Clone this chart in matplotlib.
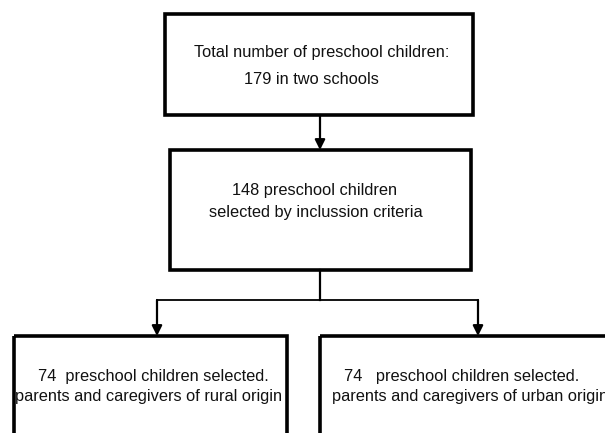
import matplotlib.pyplot as plt
from matplotlib import patches

# boxes: (left, top, right, bottom) in pixel coordinates of the 605x433 canvas
box_left = [165, 170, 14, 320]
box_top = [14, 150, 336, 336]
box_right = [473, 471, 287, 640]
box_bottom = [115, 270, 460, 460]

# text lines: (x centre, y, string)
text_x = [322, 311, 315, 316, 153, 149, 462, 470]
text_y = [52, 80, 191, 212, 377, 397, 377, 397]
text_s = ['Total number of preschool children:',
          '179 in two schools',
          '148 preschool children',
          'selected by inclussion criteria',
          '74  preschool children selected.',
          'parents and caregivers of rural origin',
          '74   preschool children selected.',
          'parents and caregivers of urban origin']

fig = plt.figure(figsize=(6.05, 4.33), dpi=100)
ax = fig.add_axes([0, 0, 1, 1])
ax.set_xlim(0, 605)
ax.set_ylim(433, 0)
ax.axis('off')

for l, t, r, b in zip(box_left, box_top, box_right, box_bottom):
    ax.add_patch(patches.Rectangle((l, t), r - l, b - t, fill=False,
                                   edgecolor='black', linewidth=2.6, clip_on=True))

for x, y, s in zip(text_x, text_y, text_s):
    ax.text(x, y, s, ha='center', va='center', fontsize=11.8,
            family='Liberation Sans', color='#111111')

arrow_kw = dict(arrowstyle='-|>,head_length=0.6,head_width=0.3', color='black',
                linewidth=1.6, shrinkA=0, shrinkB=0)
# box 1 -> box 2
ax.annotate('', xy=(320, 150), xytext=(320, 115), arrowprops=arrow_kw)
# box 2 -> split
ax.plot([320, 320], [270, 300], color='black', linewidth=1.6)
ax.plot([157, 478], [300, 300], color='black', linewidth=1.3)
ax.annotate('', xy=(157, 336), xytext=(157, 300), arrowprops=arrow_kw)
ax.annotate('', xy=(478, 336), xytext=(478, 300), arrowprops=arrow_kw)

fig.savefig('out.png', dpi=100)
